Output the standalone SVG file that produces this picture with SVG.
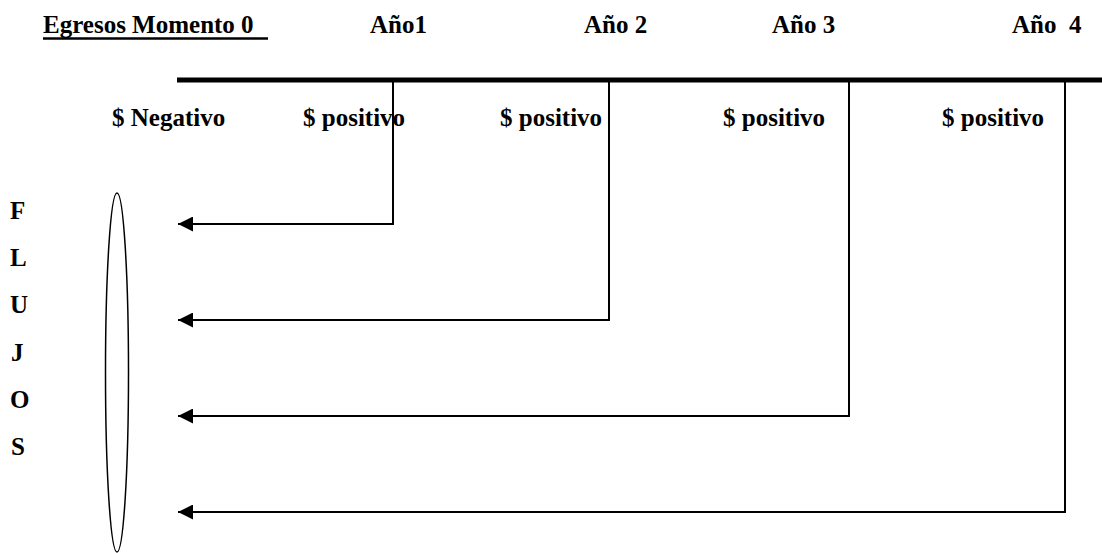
<svg xmlns="http://www.w3.org/2000/svg" width="1102" height="553" viewBox="0 0 1102 553">
  <style>
    .lbl { font-family: "Liberation Serif", "Times New Roman", serif; font-weight: bold; font-size: 25px; fill: #000; }
    .conn { fill: none; stroke: #000; stroke-width: 2; }
  </style>
  <defs>
    <marker id="arrow" markerUnits="userSpaceOnUse" markerWidth="15" markerHeight="15" refX="15" refY="7.5" orient="auto">
      <path d="M0,0 L15,7.5 L0,15 z" fill="#000"/>
    </marker>
  </defs>
  <rect width="1102" height="553" fill="#fff"/>

  <g id="header-egresos">
    <text class="lbl" x="43" y="33">Egresos Momento 0</text>
    <line x1="43" y1="38.5" x2="268" y2="38.5" stroke="#000" stroke-width="2.5"/>
  </g>
  <g id="header-ano1"><text class="lbl" x="370" y="33">Año1</text></g>
  <g id="header-ano2"><text class="lbl" x="584" y="33">Año 2</text></g>
  <g id="header-ano3"><text class="lbl" x="772" y="33">Año 3</text></g>
  <g id="header-ano4"><text class="lbl" x="1012" y="33" xml:space="preserve">Año  4</text></g>

  <g id="timeline">
    <line x1="177" y1="80" x2="1102" y2="80" stroke="#000" stroke-width="5"/>
  </g>

  <g id="label-negativo"><text class="lbl" x="112" y="126">$ Negativo</text></g>
  <g id="label-positivo1"><text class="lbl" x="303" y="126">$ positivo</text></g>
  <g id="label-positivo2"><text class="lbl" x="500" y="126">$ positivo</text></g>
  <g id="label-positivo3"><text class="lbl" x="723" y="126">$ positivo</text></g>
  <g id="label-positivo4"><text class="lbl" x="942" y="126">$ positivo</text></g>

  <g id="flujos">
    <text class="lbl" x="10" y="219">F</text>
    <text class="lbl" x="10" y="266">L</text>
    <text class="lbl" x="10" y="313">U</text>
    <text class="lbl" x="11" y="361">J</text>
    <text class="lbl" x="10" y="408">O</text>
    <text class="lbl" x="11" y="455">S</text>
  </g>

  <g id="ellipse-flujos">
    <ellipse cx="117" cy="372.5" rx="11.5" ry="179.5" fill="none" stroke="#000" stroke-width="1.5"/>
  </g>

  <g id="connectors">
    <path class="conn" d="M393,80 V224 H178" marker-end="url(#arrow)"/>
    <path class="conn" d="M609,80 V320 H178" marker-end="url(#arrow)"/>
    <path class="conn" d="M849,80 V416 H178" marker-end="url(#arrow)"/>
    <path class="conn" d="M1065,80 V512 H178" marker-end="url(#arrow)"/>
  </g>
</svg>
